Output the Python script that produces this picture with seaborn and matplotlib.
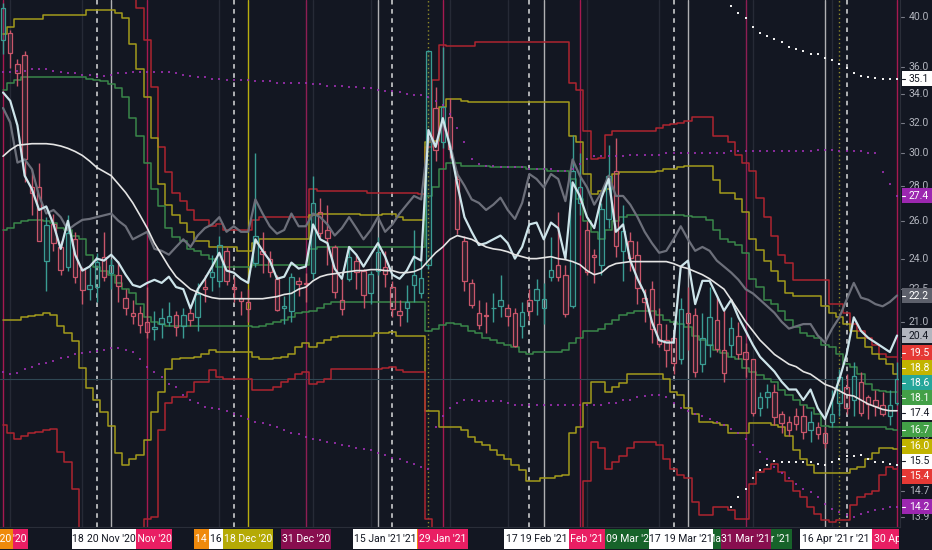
import numpy as np
import pandas as pd
import matplotlib
matplotlib.use('Agg')
import matplotlib.pyplot as plt
from matplotlib import font_manager
from matplotlib.colors import to_rgba
from matplotlib.patches import Rectangle
import seaborn as sns

# VIX daily sessions, 30 Oct 2020 .. 30 Apr 2021 (bar 0 .. 124)
opn = [38.1, 38.7, 36.2, 36.9, 27.9, 27.9, 23.9, 25.8, 24.6, 23.6,
       25.0, 23.5, 22.5, 22.6, 24.1, 23.3, 23.2, 22.1, 21.4, 21.4,
       21.0, 20.7, 20.9, 21.0, 21.3, 20.8, 21.4, 21.2, 22.6, 23.1,
       22.9, 24.4, 22.6, 22.1, 21.9, 23.8, 24.4, 24.0, 23.0, 21.6,
       21.5, 22.9, 22.8, 23.3, 26.5, 25.5, 24.6, 22.0, 23.0, 23.9,
       23.4, 22.3, 23.4, 23.6, 22.6, 21.5, 21.6, 22.7, 22.3, 23.7,
       33.0, 30.7, 32.4, 28.4, 24.9, 22.8, 21.4, 21.3, 21.6, 21.7,
       21.6, 21.4, 20.8, 22.0, 22.0, 21.6, 23.1, 23.7, 23.2, 21.7,
       27.0, 25.5, 24.2, 23.7, 26.1, 28.9, 24.4, 24.9, 24.2, 22.1,
       22.5, 20.9, 20.2, 20.3, 19.4, 21.4, 21.3, 19.2, 20.0, 21.1,
       19.8, 20.0, 20.4, 19.7, 19.4, 17.5, 17.9, 18.1, 17.3, 17.0,
       17.2, 17.2, 16.7, 16.8, 16.6, 17.0, 17.7, 18.3, 17.8, 18.5,
       17.9, 17.8, 17.6, 17.2, 17.7]
high = [41.2, 38.9, 36.6, 37.2, 29.0, 29.4, 26.2, 26.4, 24.9, 26.3,
        25.4, 23.6, 23.6, 24.3, 25.4, 24.0, 23.9, 22.5, 22.0, 21.7,
        22.6, 21.5, 21.6, 21.9, 21.5, 21.6, 21.6, 22.8, 23.2, 24.2,
        25.2, 24.6, 23.1, 22.4, 22.5, 30.0, 25.4, 24.4, 23.2, 22.2,
        23.3, 23.1, 23.3, 28.6, 27.3, 26.9, 24.7, 23.0, 24.6, 24.2,
        23.5, 23.4, 25.1, 24.4, 22.9, 22.0, 22.7, 25.5, 23.9, 37.3,
        34.5, 37.5, 33.7, 28.9, 25.2, 23.0, 22.0, 21.9, 22.3, 23.2,
        21.8, 21.6, 21.9, 22.5, 23.0, 22.8, 25.1, 26.5, 23.7, 31.2,
        30.0, 26.0, 24.5, 27.0, 30.5, 31.0, 26.9, 25.4, 24.9, 22.5,
        22.9, 21.6, 20.9, 20.6, 22.1, 22.6, 21.6, 21.4, 22.6, 22.2,
        21.6, 21.2, 21.0, 20.1, 19.4, 18.1, 18.4, 18.4, 17.4, 17.2,
        17.5, 17.6, 17.4, 17.0, 16.8, 18.2, 19.0, 18.8, 19.3, 18.9,
        18.0, 18.2, 18.1, 18.2, 19.3]
low = [37.0, 35.9, 34.6, 28.2, 26.3, 24.9, 22.4, 24.4, 23.2, 23.4,
       22.8, 21.8, 22.0, 21.9, 22.9, 22.5, 21.9, 21.3, 20.9, 20.5,
       20.3, 20.2, 20.3, 20.8, 20.4, 20.3, 20.8, 20.6, 21.9, 22.4,
       22.6, 22.7, 21.9, 21.3, 21.0, 23.6, 23.3, 23.1, 21.5, 20.9,
       21.0, 22.2, 21.9, 23.0, 25.1, 23.7, 22.1, 21.3, 22.9, 22.5,
       21.6, 21.8, 23.2, 22.6, 21.2, 20.8, 21.0, 21.9, 22.1, 23.5,
       29.5, 30.3, 29.7, 25.3, 22.4, 21.6, 20.7, 20.5, 21.0, 21.2,
       20.8, 19.9, 20.3, 21.1, 21.3, 20.9, 22.9, 22.9, 21.2, 21.6,
       26.3, 23.2, 22.8, 23.2, 25.6, 24.1, 22.9, 23.4, 21.8, 21.0,
       20.1, 19.9, 19.1, 18.8, 19.2, 19.8, 18.7, 18.9, 19.5, 19.7,
       18.5, 19.5, 19.4, 18.7, 17.2, 17.2, 17.5, 16.9, 16.6, 16.5,
       16.7, 16.4, 16.3, 16.4, 16.1, 16.8, 17.2, 17.3, 17.2, 17.2,
       17.1, 17.2, 17.2, 16.9, 17.6]
close = [40.8, 37.1, 35.5, 29.6, 27.6, 24.9, 25.75, 24.8, 23.45, 25.35,
         23.1, 22.45, 22.71, 23.84, 23.11, 23.7, 22.66, 21.64, 21.25, 20.84,
         20.57, 20.77, 21.17, 21.28, 20.79, 21.3, 21.1, 22.27, 22.52, 23.31,
         24.72, 22.89, 22.5, 21.93, 21.57, 25.16, 24.23, 23.31, 21.53, 21.7,
         23.08, 22.77, 22.75, 26.97, 25.34, 25.07, 22.37, 21.56, 24.08, 23.33,
         22.21, 23.25, 24.34, 23.24, 21.58, 21.32, 21.91, 23.19, 23.02, 37.21,
         30.21, 33.09, 30.24, 25.56, 22.91, 21.77, 20.87, 21.24, 21.63, 21.99,
         21.25, 19.97, 21.46, 21.5, 22.49, 22.05, 23.45, 23.11, 21.34, 28.89,
         27.95, 23.35, 24.1, 26.67, 28.57, 24.66, 25.47, 24.03, 22.56, 21.91,
         20.69, 20.03, 19.79, 19.23, 21.58, 20.95, 18.88, 20.3, 21.2, 19.81,
         18.86, 20.74, 19.61, 19.4, 17.33, 17.91, 18.12, 17.16, 16.95, 16.69,
         16.91, 16.65, 16.99, 16.57, 16.25, 17.29, 18.68, 17.5, 18.71, 17.33,
         17.64, 17.56, 17.28, 17.61, 18.61]

# front month future (bright line) and second month (grey line)
vx1 = [34.1, 33.5, 31.8, 28.6, 27.8, 26.6, 26.8, 25.8, 24.5, 26.0,
       24.2, 23.4, 23.6, 24.0, 23.9, 24.2, 23.8, 23.2, 22.7, 22.6,
       22.8, 22.95, 22.8, 23.1, 22.6, 22.5, 21.6, 22.5, 23.0, 23.6,
       24.3, 23.4, 23.3, 23.0, 22.8, 25.0, 24.4, 23.9, 23.0, 23.1,
       23.8, 23.5, 23.6, 25.8, 25.0, 24.8, 23.5, 23.0, 24.6, 24.2,
       23.6, 24.2, 24.8, 24.1, 23.2, 23.0, 23.4, 24.1, 23.9, 31.5,
       30.4, 32.3, 30.4, 28.1, 26.2, 25.4, 24.7, 24.8, 25.0, 25.2,
       24.8, 24.0, 24.6, 25.8, 25.9, 25.0, 25.9, 25.6, 24.0, 28.2,
       27.4, 26.2, 25.6, 27.3, 28.4, 25.4, 25.8, 23.9, 23.0, 22.3,
       21.0, 20.2, 20.1, 20.1, 23.6, 23.9, 21.8, 22.9, 22.9, 22.2,
       21.5, 22.0, 21.2, 20.6, 20.0, 19.5, 19.2, 18.9, 18.5, 18.2,
       18.2, 17.8, 18.2, 17.5, 17.1, 17.8, 18.6, 19.6, 21.2, 20.6,
       20.3, 20.1, 19.9, 19.7, 20.4]
vx2 = [33.0, 32.0, 29.4, 29.6, 29.0, 27.4, 26.4, 26.6, 26.2, 25.5,
       25.8, 26.05, 26.1, 26.2, 26.3, 26.4, 26.0, 25.7, 25.0, 25.2,
       25.4, 24.5, 24.4, 24.2, 24.6, 25.0, 24.6, 25.2, 25.6, 25.8,
       26.2, 25.4, 25.7, 25.4, 25.4, 27.2, 26.4, 25.7, 25.3, 25.5,
       26.4, 25.7, 25.7, 26.4, 26.2, 25.8, 25.2, 25.6, 26.2, 25.6,
       25.0, 25.5, 26.2, 25.4, 25.8, 26.4, 26.9, 27.4, 27.2, 31.0,
       30.4, 32.0, 30.6, 28.7, 28.0, 27.2, 27.0, 26.6, 26.9, 27.3,
       26.6, 26.1, 27.0, 28.7, 28.4, 27.9, 28.7, 28.4, 27.1, 29.6,
       28.6, 27.9, 26.9, 27.6, 28.6, 27.4, 27.4, 26.9, 26.2, 25.4,
       24.8, 24.3, 24.4, 25.0, 25.7, 25.0, 24.4, 24.6, 24.4, 23.9,
       23.6, 23.3, 22.95, 22.5, 22.3, 22.0, 21.7, 21.4, 21.0, 20.7,
       20.8, 20.9, 20.9, 20.4, 20.1, 20.7, 21.2, 22.0, 22.8, 22.1,
       22.0, 21.8, 21.7, 21.9, 22.2]
sma = [29.8, 30.2, 30.5, 30.55, 30.6, 30.6, 30.6, 30.55, 30.45, 30.3,
       30.1, 29.85, 29.5, 29.1, 28.85, 28.6, 28.1, 27.6, 27.0, 26.3,
       25.6, 24.8, 24.2, 23.6, 23.1, 22.8, 22.5, 22.35, 22.2, 22.1,
       22.05, 22.05, 22.05, 22.05, 22.05, 22.05, 22.05, 22.1, 22.15, 22.25,
       22.3, 22.5, 22.6, 22.9, 23.1, 23.2, 23.25, 23.3, 23.35, 23.4,
       23.4, 23.45, 23.45, 23.4, 23.4, 23.3, 23.3, 23.35, 23.5, 23.9,
       24.3, 24.6, 25.0, 25.2, 25.1, 25.0, 24.8, 24.6, 24.5, 24.45,
       24.35, 24.2, 24.1, 24.0, 24.0, 24.05, 24.1, 24.0, 23.95, 23.85,
       23.7, 23.4, 23.2, 23.3, 23.6, 23.75, 23.8, 23.85, 23.85, 23.85,
       23.85, 23.85, 23.85, 23.75, 23.6, 23.5, 23.35, 23.2, 23.0, 22.75,
       22.5, 22.0, 21.5, 21.0, 20.6, 20.2, 19.9, 19.6, 19.4, 19.2,
       19.1, 18.9, 18.8, 18.6, 18.4, 18.3, 18.15, 18.0, 17.95, 17.8,
       17.65, 17.55, 17.45, 17.4, 17.4]

# stepped bands: red (outer), yellow, green (inner)
upper3 = [48.5, 48.9, 49.2, 49.4, 49.5, 49.5, 49.4, 49.2, 48.9, 48.5,
          48.0, 47.4, 46.6, 45.8, 45.0, 44.2, 43.5, 42.8, 42.0, 40.8,
          38.1, 34.5, 30.4, 28.8, 27.6, 27.1, 26.6, 26.05, 26.05, 25.7,
          25.8, 25.5, 25.5, 25.5, 25.5, 26.05, 26.2, 26.2, 26.2, 26.2,
          26.2, 26.2, 26.2, 27.8, 27.7, 27.7, 27.7, 27.7, 27.7, 27.7,
          27.7, 27.6, 27.6, 27.6, 27.6, 27.6, 27.6, 27.6, 27.5, 30.4,
          35.0, 37.7, 37.6, 37.6, 37.6, 37.6, 37.9, 37.9, 37.9, 37.9,
          37.9, 37.9, 37.9, 37.9, 37.9, 37.9, 37.9, 37.9, 37.9, 34.8,
          34.3, 31.4, 29.6, 29.7, 31.2, 31.4, 31.4, 31.4, 31.4, 31.4,
          31.4, 31.6, 31.8, 31.9, 32.0, 32.1, 32.4, 32.4, 32.4, 31.1,
          31.1, 30.7, 29.9, 29.4, 28.9, 27.3, 26.2, 25.2, 24.2, 23.8,
          22.95, 22.95, 22.95, 22.95, 22.95, 21.8, 21.8, 21.4, 20.9, 20.6,
          20.3, 20.0, 19.6, 19.5, 19.5]
upper2 = [38.6, 39.2, 39.8, 39.8, 39.8, 39.8, 40.2, 40.2, 40.2, 40.2,
          40.2, 40.2, 40.6, 40.6, 40.6, 40.6, 40.3, 39.9, 37.8, 35.8,
          33.8, 31.0, 28.1, 26.9, 26.3, 25.9, 25.4, 24.9, 24.9, 24.6,
          24.6, 24.6, 24.6, 24.4, 24.4, 24.8, 25.0, 25.0, 25.0, 25.0,
          25.0, 25.0, 25.0, 26.3, 26.35, 26.4, 26.4, 26.4, 26.4, 26.35,
          26.3, 26.3, 26.3, 26.35, 26.35, 26.2, 26.05, 26.05, 26.05, 30.7,
          30.8, 33.1, 33.6, 33.6, 33.5, 33.4, 33.4, 33.4, 33.4, 33.4,
          33.4, 33.4, 33.4, 33.4, 33.4, 33.4, 33.4, 33.4, 33.4, 31.1,
          30.7, 28.7, 27.5, 27.7, 27.8, 28.7, 28.8, 28.8, 28.8, 28.8,
          28.8, 28.9, 29.0, 29.0, 29.1, 29.2, 29.2, 29.2, 29.2, 28.35,
          27.6, 27.6, 27.2, 26.5, 25.0, 24.45, 23.9, 23.4, 22.9, 22.3,
          22.2, 22.2, 22.2, 22.2, 21.7, 21.4, 21.2, 20.9, 20.6, 20.3,
          19.9, 19.6, 19.4, 19.2, 18.8]
upper1 = [34.3, 34.8, 35.0, 35.2, 35.2, 35.2, 35.2, 35.2, 35.2, 35.2,
          35.2, 35.2, 35.1, 35.0, 34.9, 34.7, 34.4, 33.8, 32.3, 31.1,
          29.4, 27.8, 26.8, 25.6, 25.1, 24.9, 24.5, 24.4, 24.2, 24.0,
          23.6, 23.6, 23.6, 23.6, 23.6, 23.7, 23.7, 23.7, 23.7, 23.7,
          23.7, 23.7, 23.7, 24.5, 24.6, 24.6, 24.6, 24.6, 24.6, 24.6,
          24.6, 24.6, 24.6, 24.6, 24.6, 24.6, 24.6, 24.6, 24.6, 27.4,
          27.9, 29.0, 29.4, 29.4, 29.2, 29.2, 29.2, 29.2, 29.1, 29.1,
          29.1, 29.1, 29.1, 29.0, 29.0, 29.0, 28.9, 28.9, 28.9, 28.4,
          27.2, 26.0, 25.4, 25.0, 25.5, 26.0, 26.2, 26.3, 26.3, 26.3,
          26.3, 26.3, 26.3, 26.3, 26.3, 26.25, 26.2, 26.2, 26.05, 25.5,
          25.0, 24.85, 24.7, 24.3, 23.0, 22.6, 22.0, 21.8, 21.5, 21.1,
          20.75, 20.5, 20.4, 20.3, 20.0, 19.9, 19.6, 19.2, 19.1, 18.8,
          18.4, 18.2, 18.15, 18.1, 18.1]
lower1 = [25.5, 25.6, 25.9, 26.0, 26.05, 26.05, 26.0, 25.9, 25.6, 25.5,
          25.2, 25.0, 24.2, 23.6, 23.4, 23.2, 22.8, 22.5, 22.3, 21.8,
          21.2, 21.0, 20.9, 20.8, 20.8, 20.8, 20.8, 20.8, 20.8, 20.8,
          20.8, 20.8, 20.8, 20.8, 20.8, 20.75, 20.8, 20.9, 21.0, 21.1,
          21.2, 21.4, 21.45, 21.5, 21.6, 21.8, 21.9, 21.9, 21.9, 21.9,
          21.9, 21.9, 21.9, 21.9, 21.9, 21.9, 21.9, 21.9, 21.9, 20.6,
          20.7, 20.85, 20.95, 20.9, 20.8, 20.6, 20.5, 20.3, 20.2, 20.1,
          20.0, 19.9, 19.7, 19.6, 19.7, 19.7, 19.7, 19.7, 19.8, 20.1,
          20.3, 20.6, 20.6, 20.7, 20.9, 21.1, 21.3, 21.4, 21.5, 21.5,
          21.5, 21.3, 21.1, 21.0, 20.9, 20.75, 20.4, 20.2, 20.0, 19.8,
          19.65, 19.5, 19.4, 19.05, 18.9, 18.75, 18.6, 18.5, 18.2, 18.0,
          17.8, 17.6, 17.5, 17.3, 16.85, 16.8, 16.8, 16.8, 16.8, 16.8,
          16.8, 16.8, 16.8, 16.75, 16.72]
lower2 = [21.1, 21.1, 21.1, 21.2, 21.25, 21.3, 21.4, 21.3, 20.8, 20.5,
          20.15, 19.05, 18.25, 17.8, 17.35, 16.85, 15.9, 15.5, 15.7, 15.85,
          16.35, 17.35, 18.1, 19.0, 19.4, 19.45, 19.45, 19.5, 19.6, 19.8,
          19.7, 19.7, 19.7, 19.7, 19.7, 19.5, 19.4, 19.4, 19.45, 19.5,
          19.6, 19.9, 20.1, 19.9, 20.1, 20.2, 20.35, 20.4, 20.4, 20.4,
          20.4, 20.4, 20.5, 20.5, 20.55, 20.4, 20.4, 20.4, 20.4, 17.4,
          17.4, 16.8, 16.8, 16.8, 16.7, 16.45, 16.3, 16.2, 16.0, 15.85,
          15.7, 15.5, 15.35, 15.0, 15.0, 15.1, 15.1, 15.15, 15.2, 16.6,
          16.8, 17.7, 18.5, 18.5, 18.1, 18.3, 18.45, 18.8, 18.8, 18.8,
          18.8, 18.8, 18.6, 18.1, 18.0, 17.5, 17.3, 17.0, 17.0, 16.95,
          16.9, 16.6, 16.6, 16.6, 16.95, 16.95, 16.95, 16.9, 16.8, 16.5,
          16.0, 15.7, 15.5, 15.25, 15.25, 15.25, 15.25, 15.25, 15.4, 15.45,
          15.7, 15.9, 16.1, 16.1, 16.04]
lower3 = [16.9, 16.6, 16.4, 16.5, 16.6, 16.65, 16.7, 16.75, 15.95, 15.6,
          14.75, 13.2, 12.6, 12.0, 11.6, 11.3, 11.2, 11.3, 11.8, 12.7,
          13.85, 13.9, 16.7, 17.7, 17.9, 17.9, 18.1, 18.5, 18.5, 18.95,
          18.7, 18.6, 18.6, 18.6, 18.6, 18.2, 18.2, 18.2, 18.3, 18.5,
          18.6, 18.8, 18.9, 18.4, 18.5, 18.6, 19.0, 19.0, 19.0, 19.0,
          19.0, 19.0, 19.0, 19.05, 19.1, 18.95, 18.9, 18.9, 18.9, 13.85,
          12.6, 12.3, 12.0, 11.8, 11.7, 11.6, 11.6, 11.7, 11.8, 11.9,
          12.0, 12.1, 12.2, 12.3, 12.4, 12.5, 12.6, 12.8, 13.0, 13.2,
          13.4, 15.0, 16.3, 16.1, 15.4, 15.6, 15.8, 16.1, 16.3, 16.3,
          16.3, 16.2, 15.7, 15.4, 15.2, 15.1, 14.35, 13.95, 13.95, 14.2,
          14.2, 14.1, 13.85, 13.85, 14.9, 15.3, 15.4, 15.55, 15.3, 15.0,
          14.7, 14.5, 14.2, 14.0, 13.8, 13.75, 13.8, 13.8, 14.25, 14.5,
          14.6, 14.7, 15.2, 15.45, 15.4]

# purple dotted envelope
dots_up = [35.6, 35.6, 35.7, 35.7, 35.8, 35.8, 35.8, 35.7, 35.6, 35.5,
           35.5, 35.4, 35.4, 35.3, 35.3, 35.4, 35.5, 35.5, 35.6, 35.6,
           35.6, 35.6, 35.6, 35.6, 35.5, 35.4, 35.3, 35.2, 35.2, 35.1,
           35.1, 35.0, 35.0, 35.0, 35.0, 34.9, 34.9, 34.9, 34.8, 34.8,
           34.8, 34.8, 34.8, 34.7, 34.7, 34.6, 34.6, 34.6, 34.5, 34.5,
           34.4, 34.4, 34.3, 34.2, 34.2, 34.1, 34.0, 33.9, 33.9, 33.8,
           33.5, 33.2, 32.6, 31.6, 30.7, 29.6, 29.3, 29.2, 29.2, 29.1,
           29.1, 29.1, 29.1, 29.0, 29.0, 29.0, 29.0, 28.9, 28.9, 29.0,
           29.3, 29.6, 29.8, 29.8, 29.8, 29.8, 29.8, 29.9, 29.9, 29.9,
           29.9, 29.9, 30.0, 30.0, 30.0, 30.0, 30.0, 30.0, 30.0, 30.0,
           30.0, 30.1, 30.1, 30.1, 30.1, 30.1, 30.1, 30.1, 30.1, 30.1,
           30.1, 30.1, 30.1, 30.2, 30.2, 30.2, 30.1, 30.1, 30.1, 30.1,
           30.0, 30.0, 28.8, 28.1, 27.4]
dots_dn = [18.9, 18.8, 18.85, 19.0, 19.1, 19.2, 19.25, 19.35, 19.45, 19.5,
           19.6, 19.65, 19.7, 19.75, 19.8, 19.85, 19.85, 19.8, 19.7, 19.4,
           19.1, 18.9, 18.7, 18.4, 18.3, 18.0, 17.8, 17.7, 17.55, 17.5,
           17.45, 17.4, 17.3, 17.2, 17.1, 17.0, 16.95, 16.9, 16.8, 16.7,
           16.6, 16.55, 16.45, 16.4, 16.35, 16.3, 16.25, 16.2, 16.15, 16.1,
           16.05, 16.0, 15.9, 15.85, 15.75, 15.7, 15.6, 15.55, 15.45, 15.4,
           16.8, 17.2, 17.5, 17.7, 17.8, 17.8, 17.75, 17.75, 17.75, 17.75,
           17.7, 17.6, 17.6, 17.6, 17.6, 17.6, 17.6, 17.6, 17.6, 17.6,
           17.6, 17.6, 17.6, 17.6, 17.7, 17.7, 17.8, 17.8, 17.9, 17.95,
           18.0, 18.0, 17.9, 17.7, 17.5, 17.4, 17.3, 17.2, 17.1, 17.0,
           16.9, 16.75, 16.6, 16.4, 16.2, 15.95, 15.7, 15.45, 15.25, 15.1,
           14.9, 14.75, 14.65, 14.5, 14.3, 14.15, 14.05, 13.95, 13.9, 14.0,
           14.05, 14.1, 14.15, 14.2, 14.2]

# white dotted stops, only plotted from bar 101 on
sar_first_bar = 101
sar_up = [40.98, 40.3, 39.9, 39.2, 38.7, 38.4, 38.2, 37.9, 37.5, 37.4,
          37.2, 37.0, 37.0, 36.7, 36.5, 36.2, 35.9, 35.5, 35.3, 35.2,
          35.15, 35.1, 35.1, 35.1]
sar_dn = [14.2, 14.5, 14.75, 15.1, 15.35, 15.5, 15.65, 15.6, 15.6, 15.6,
          15.6, 15.6, 15.55, 15.5, 15.6, 15.7, 15.8, 15.8, 15.85, 15.7,
          15.6, 15.6, 15.55, 15.5]

# event bars
month_end = [0, 20, 61, 80, 124]
quarter_end = [42, 103]
vix_expiry = [13, 32, 54, 73, 93, 117]
opex = [15, 52, 75, 95, 114]
quad_witching = [34]
spike_days = [59, 116]
grid_bars = [1, 11, 30, 43, 51, 62, 70, 81, 91, 104, 115]

# time axis labels, in drawing order (later ones cover earlier ones)
date_labels = [("30 Oct '20", 0, 'pink'), ("29 Oct '20", -2.1, 'orange'),
               ("14 Dec '20", 30, 'orange'), ("27 Jan '21", 59, 'orange'),
               ("09 Mar '21", 87, 'green'), ("25 Mar '21", 99, 'green'),
               ("06 Apr '21", 106, 'green'),
               ("30 Nov '20", 20, 'pink'), ("31 Dec '20", 42, 'magenta'),
               ("29 Jan '21", 61, 'pink'), ("26 Feb '21", 80, 'pink'),
               ("31 Mar '21", 103, 'magenta'), ("30 Apr '21", 124, 'pink'),
               ("18 Nov '20", 13, 'white'), ("20 Nov '20", 15, 'white'),
               ("16 Dec '20", 32, 'white'), ("20 Jan '21", 54, 'white'),
               ("15 Jan '21", 52, 'white'), ("17 Feb '21", 73, 'white'),
               ("19 Feb '21", 75, 'white'), ("17 Mar '21", 93, 'white'),
               ("19 Mar '21", 95, 'white'), ("21 Apr '21", 117, 'white'),
               ("16 Apr '21", 114, 'white'), ("18 Dec '20", 34, 'yellow')]

price_ticks = [40.0, 36.0, 34.0, 32.0, 30.0, 28.0, 26.0, 24.0, 22.5, 21.0,
               19.5, 18.0, 16.5, 14.7, 13.9]

df = pd.DataFrame({'open': opn, 'high': high, 'low': low, 'close': close,
                   'vx1': vx1, 'vx2': vx2, 'sma': sma,
                   'upper3': upper3, 'upper2': upper2, 'upper1': upper1,
                   'lower1': lower1, 'lower2': lower2, 'lower3': lower3,
                   'dots_up': dots_up, 'dots_dn': dots_dn})
df['bar'] = np.arange(len(df))
sar = pd.DataFrame({'bar': np.arange(sar_first_bar, sar_first_bar + len(sar_up)),
                    'up': sar_up, 'dn': sar_dn})

BG = '#131722'
RED_C = '#c9566a'
TEAL_C = '#3a9c93'
BAND_RED = '#ad2530'
BAND_YEL = '#a39b1c'
BAND_GRN = '#3a874a'
PURPLE = '#9c2fb0'

sns.set_style('dark', {'axes.facecolor': BG, 'figure.facecolor': BG,
                       'axes.edgecolor': BG, 'axes.grid': False})
names = {f.name for f in font_manager.fontManager.ttflist}
face = 'Liberation Sans Narrow' if 'Liberation Sans Narrow' in names else 'Roboto'
plt.rcParams['font.family'] = [face, 'DejaVu Sans']

fig = plt.figure(figsize=(9.32, 5.5), dpi=100)
ax = fig.add_axes([0, 23 / 550, 899 / 932, 527 / 550])
axb = fig.add_axes([0, 0, 899 / 932, 22 / 550])
axr = fig.add_axes([900 / 932, 23 / 550, 32 / 932, 527 / 550])

ymin, ymax = 13.61, 41.46
xmin, xmax = -0.42, 124.27
ax.set_yscale('log')

# vertical event lines
for b in grid_bars:
    ax.axvline(b, color='#262a36', lw=1, zorder=1)
for b in month_end:
    ax.axvline(b, color='#d81b60', lw=1, alpha=0.75, zorder=1)
for b in quarter_end:
    ax.axvline(b, color='#9c1f5a', lw=1, alpha=0.9, zorder=1)
for b in opex:
    ax.axvline(b, color='#d8d8d8', lw=1, alpha=0.8, zorder=1)
for b in vix_expiry:
    ax.axvline(b, color='#f0f0f0', lw=1.1, ls=(0, (3, 3)), alpha=0.9, zorder=1)
for b in quad_witching:
    ax.axvline(b, color='#b8ae10', lw=1, zorder=1)
for b in spike_days:
    ax.axvline(b, color='#8f8a2a', lw=1, ls=(0, (1, 2)), zorder=1)
ax.axhline(close[-1], color='#2f4753', lw=0.8, zorder=1)

# bands
for col, c in [('upper3', BAND_RED), ('upper2', BAND_YEL), ('upper1', BAND_GRN),
               ('lower1', BAND_GRN), ('lower2', BAND_YEL), ('lower3', BAND_RED)]:
    sns.lineplot(data=df, x='bar', y=col, ax=ax, color=c, lw=1.1,
                 drawstyle='steps-mid', estimator=None, legend=False, zorder=2)

# candles (hollow style)
up = df['close'] >= df['open']
cols = np.where(up, TEAL_C, RED_C)
body_lo = np.minimum(df['open'], df['close'])
body_hi = np.maximum(df['open'], df['close'])
ax.vlines(df['bar'], df['low'], body_lo, colors=cols, lw=1, zorder=3)
ax.vlines(df['bar'], body_hi, df['high'], colors=cols, lw=1, zorder=3)
ax.bar(df['bar'], body_hi - body_lo, bottom=body_lo, width=0.62,
       color=[to_rgba(c, 0.12) for c in cols], edgecolor=cols, linewidth=0.9, zorder=3)

# futures lines and average
sns.lineplot(data=df, x='bar', y='vx2', ax=ax, color='#6c6f7a', lw=1.6,
             estimator=None, legend=False, zorder=4)
sns.lineplot(data=df, x='bar', y='vx1', ax=ax, color='#cde4ea', lw=1.6,
             estimator=None, legend=False, zorder=4.2)
sns.lineplot(data=df, x='bar', y='sma', ax=ax, color='#e4e4e4', lw=1.2,
             estimator=None, legend=False, zorder=4.5)

# dotted series
sns.scatterplot(data=df, x='bar', y='dots_up', ax=ax, color=PURPLE, s=2.5,
                marker='s', linewidth=0, alpha=0.85, legend=False, zorder=5)
sns.scatterplot(data=df, x='bar', y='dots_dn', ax=ax, color=PURPLE, s=2.5,
                marker='s', linewidth=0, alpha=0.85, legend=False, zorder=5)
sns.scatterplot(data=sar, x='bar', y='up', ax=ax, color='#eeeeee', s=3.5,
                marker='s', linewidth=0, legend=False, zorder=5)
sns.scatterplot(data=sar, x='bar', y='dn', ax=ax, color='#eeeeee', s=3.5,
                marker='s', linewidth=0, legend=False, zorder=5)

ax.set_xlim(xmin, xmax)
ax.set_ylim(ymin, ymax)
ax.set_xticks([])
ax.set_yticks([])
ax.set_yticks([], minor=True)
ax.set_xlabel('')
ax.set_ylabel('')
for name, sp in ax.spines.items():
    sp.set_visible(name == 'bottom')
ax.spines['bottom'].set_color('#2a2e39')

# time axis
box_kinds = {'white': ('#ffffff', '#131722'), 'pink': ('#e91e63', '#ffffff'),
             'magenta': ('#880e4f', '#ffffff'), 'orange': ('#ef8a0c', '#ffffff'),
             'green': ('#17632a', '#ffffff'), 'yellow': ('#b5aa05', '#ffffff')}
axb.set_xlim(xmin, xmax)
axb.set_ylim(0, 1)
axb.set_xticks([])
axb.set_yticks([])
for sp in axb.spines.values():
    sp.set_visible(False)
bw = 50 / 7.21
for k, (txt, b, kind) in enumerate(date_labels):
    fc, tc = box_kinds[kind]
    axb.add_patch(Rectangle((b - bw / 2, 0.04), bw, 0.92, facecolor=fc,
                            edgecolor='none', zorder=2 * k + 1))
    axb.text(b, 0.48, txt, ha='center', va='center', color=tc, fontsize=7.5,
             zorder=2 * k + 2, clip_on=True)

# price axis
axr.set_yscale('log')
axr.set_ylim(ymin, ymax)
axr.set_xlim(0, 1)
axr.set_xticks([])
axr.set_yticks([])
axr.set_yticks([], minor=True)
for name, sp in axr.spines.items():
    sp.set_visible(name == 'left')
axr.spines['left'].set_color('#2a2e39')
for v in price_ticks:
    axr.plot([0.02, 0.14], [v, v], color='#787b86', lw=0.8)
    axr.text(0.28, v, f'{v:.1f}', ha='left', va='center', color='#b2b5be', fontsize=7.5)

tags = [(sar_up[-1], '#ffffff', '#131722'), (dots_up[-1], '#9c27b0', '#ffffff'),
        (vx2[-1], '#5d606b', '#ffffff'), (vx1[-1], '#b2b5be', '#131722'),
        (upper3[-1], '#e53935', '#ffffff'), (upper2[-1], '#c2b400', '#ffffff'),
        (close[-1], '#26a69a', '#ffffff'), (upper1[-1], '#43a047', '#ffffff'),
        (sma[-1], '#ffffff', '#131722'), (lower1[-1], '#43a047', '#ffffff'),
        (lower2[-1], '#c2b400', '#ffffff'), (sar_dn[-1], '#ffffff', '#131722'),
        (lower3[-1], '#e53935', '#ffffff'), (dots_dn[-1], '#9c27b0', '#ffffff')]

# spread the tags so they do not overlap (15 px each)
ln_per_px = np.log(ymax / ymin) / 527
gap = 15 * ln_per_px
vals = np.array([t[0] for t in tags], float)
order = np.argsort(-vals)
pos = np.log(vals[order])
for _ in range(400):
    moved = False
    for j in range(len(pos) - 1):
        d = pos[j] - pos[j + 1]
        if d < gap - 1e-9:
            s = (gap - d) / 2
            pos[j] += s
            pos[j + 1] -= s
            moved = True
    if not moved:
        break
centers = np.empty_like(pos)
centers[order] = np.exp(pos)

half = 7.5 * ln_per_px
for (v, fc, tc), cy in zip(tags, centers):
    lo, hi = cy * np.exp(-half), cy * np.exp(half)
    axr.add_patch(Rectangle((0.06, lo), 0.94, hi - lo, facecolor=fc,
                            edgecolor='none', zorder=5))
    axr.plot([0.06, 0.16], [cy, cy], color=tc, lw=0.8, zorder=6)
    axr.text(0.28, cy, f'{v:.1f}', ha='left', va='center', color=tc,
             fontsize=7.5, zorder=7)

fig.savefig('out.png', dpi=100, facecolor=BG)
